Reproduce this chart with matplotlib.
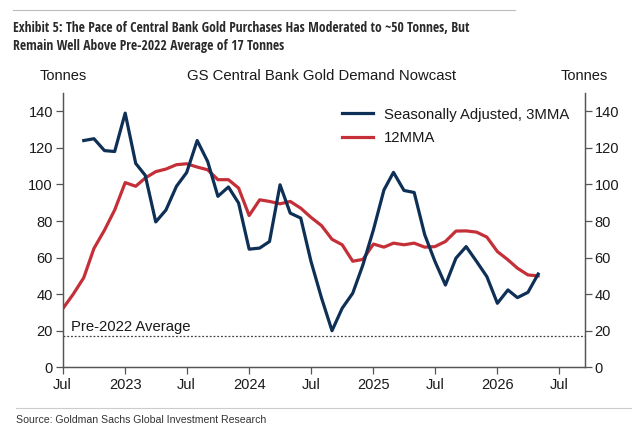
import matplotlib
matplotlib.use("Agg")
import matplotlib.pyplot as plt
import matplotlib.lines as mlines
from matplotlib import font_manager
import pandas as pd

# ---- data ----
red_start = "2022-07-01"
red_vals = [32, 40, 49, 65, 75, 86, 101, 99, 103.5, 107, 108.4, 110.8, 111.3,
            109.5, 108, 102.6, 102.6, 98, 83, 91.6, 90.7, 89.4, 90.7, 87,
            82, 77.5, 70, 67, 58, 59, 67.4, 65.7, 67.9, 67, 67.9, 65.7, 66,
            68.8, 74.5, 74.6, 73.9, 71.2, 63.3, 58.8, 54.2, 50.5, 50]
blue_start = "2022-09-01"
blue_vals = [124, 125, 118.5, 118, 139, 111.5, 105, 79.5, 86, 99, 106.5,
             124, 112.5, 93.5, 98.6, 89.8, 64.6, 65.2, 68.8, 99.8, 84.3, 81.6,
             58, 38, 20, 32.3, 40.5, 56, 75.2, 97, 106.6, 96.7, 95.6, 72.5,
             58, 45, 59.7, 66, 57.8, 49.6, 35, 42.3, 38.1, 41, 51]
pre2022_avg = 17
tick_dates = ["2022-07-01", "2023-01-01", "2023-07-01", "2024-01-01", "2024-07-01",
              "2025-01-01", "2025-07-01", "2026-01-01", "2026-07-01"]
tick_labels = ["Jul", "2023", "Jul", "2024", "Jul", "2025", "Jul", "2026", "Jul"]
yticks = [0, 20, 40, 60, 80, 100, 120, 140]

red_dates = pd.date_range(red_start, periods=len(red_vals), freq="MS")
blue_dates = pd.date_range(blue_start, periods=len(blue_vals), freq="MS")

NAVY = "#0e2f56"
RED = "#c42f38"
SPINE = "#555555"
TXT = "#1a1a1a"

plt.rcParams['font.family'] = ['Liberation Sans', 'DejaVu Sans']

# pick a condensed family for the title if available
avail = {f.name for f in font_manager.fontManager.ttflist}
tfam = None
for cand in ["Liberation Sans Narrow", "DejaVu Sans Condensed", "Open Sans Condensed",
             "Roboto Condensed", "Noto Sans Condensed"]:
    if cand in avail:
        tfam = cand
        break
if tfam is None:
    title_kw = dict(family=['Liberation Sans', 'DejaVu Sans'], fontsize=8.2)
else:
    title_kw = dict(family=[tfam, 'DejaVu Sans'], fontsize=9.8)
src_kw = dict(family=['Liberation Sans', 'DejaVu Sans'], fontsize=7.6)

fig = plt.figure(figsize=(6.41, 4.32), dpi=100)
W, H = 641, 432
ax = fig.add_axes([62.7 / W, 1 - 367.3 / H, (585 - 62.7) / W, (367.3 - 93) / H])

ax.plot(blue_dates, blue_vals, color=NAVY, lw=2.3, zorder=3)
ax.plot(red_dates, red_vals, color=RED, lw=2.3, zorder=2)
ax.axhline(pre2022_avg, color="#444444", lw=0.9, ls=(0, (1.5, 1.5)), zorder=1)
ax.text(pd.Timestamp("2022-07-25"), pre2022_avg + 1.0, "Pre-2022 Average",
        fontsize=10.7, color=TXT, va="bottom", ha="left")

ax.set_xlim(pd.Timestamp("2022-07-01"), pd.Timestamp("2026-09-16"))
ax.set_ylim(0, 150)
ax.set_xticks(pd.to_datetime(tick_dates))
ax.set_xticklabels(tick_labels)
ax.set_yticks(yticks)

ax2 = ax.twinx()
ax2.set_ylim(0, 150)
ax2.set_yticks(yticks)

for a in (ax, ax2):
    a.spines["top"].set_visible(False)
    for s in ("left", "right", "bottom"):
        a.spines[s].set_color(SPINE)
        a.spines[s].set_linewidth(0.9)
    a.tick_params(axis="both", direction="out", length=5, width=0.9,
                  color=SPINE, labelsize=10.5, labelcolor=TXT, pad=2)
ax.tick_params(axis="x", pad=3)

# legend
h1 = mlines.Line2D([], [], color=NAVY, lw=2.3)
h2 = mlines.Line2D([], [], color=RED, lw=2.3)
leg = ax.legend([h1, h2], ["Seasonally Adjusted, 3MMA", "12MMA"],
                loc="upper left", bbox_to_anchor=(0.534, 0.947), frameon=False,
                fontsize=10.7, handlelength=2.1, handletextpad=0.75,
                labelspacing=0.62, borderpad=0, borderaxespad=0)
for t in leg.get_texts():
    t.set_color(TXT)

# axis headers
fig.text(63 / W, 1 - 76 / H, "Tonnes", ha="center", va="center", fontsize=10.5, color=TXT)
fig.text(584 / W, 1 - 76 / H, "Tonnes", ha="center", va="center", fontsize=10.5, color=TXT)
fig.text(322 / W, 1 - 76 / H, "GS Central Bank Gold Demand Nowcast", ha="center",
         va="center", fontsize=10.7, color=TXT)

# title and rules
fig.add_artist(mlines.Line2D([13 / W, 515 / W], [1 - 10 / H, 1 - 10 / H],
                             color="#bbbbbb", lw=0.8))
fig.text(13 / W, 1 - 28 / H,
         "Exhibit 5: The Pace of Central Bank Gold Purchases Has Moderated to ~50 Tonnes, But",
         ha="left", va="center", fontweight="bold", color="#2a2a2a", **title_kw)
fig.text(13 / W, 1 - 46 / H,
         "Remain Well Above Pre-2022 Average of 17 Tonnes",
         ha="left", va="center", fontweight="bold", color="#2a2a2a", **title_kw)

fig.add_artist(mlines.Line2D([16 / W, 631 / W], [1 - 408 / H, 1 - 408 / H],
                             color="#cccccc", lw=0.8))
fig.text(16 / W, 1 - 420 / H, "Source: Goldman Sachs Global Investment Research",
         ha="left", va="center", color="#333333", **src_kw)

fig.savefig("out.png", dpi=100)
